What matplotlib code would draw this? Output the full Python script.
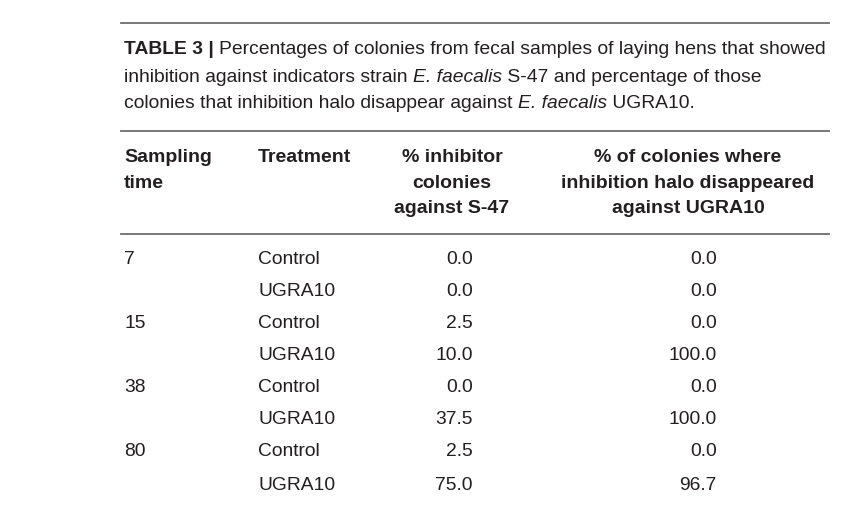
import matplotlib
matplotlib.use("Agg")
import matplotlib.pyplot as plt
from matplotlib.lines import Line2D

# ---- data ----
sampling_times = ["7", "", "15", "", "38", "", "80", ""]
treatments = ["Control", "UGRA10", "Control", "UGRA10", "Control", "UGRA10", "Control", "UGRA10"]
inhibitor_pct = [0.0, 0.0, 2.5, 10.0, 0.0, 37.5, 2.5, 75.0]
halo_pct = [0.0, 0.0, 0.0, 100.0, 0.0, 100.0, 0.0, 96.7]
headers = [["Sampling", "time"], ["Treatment"], ["% inhibitor", "colonies", "against S-47"],
           ["% of colonies where", "inhibition halo disappeared", "against UGRA10"]]
caption_lines = [
    [("TABLE 3 | ", "bold", "normal"),
     ("Percentages of colonies from fecal samples of laying hens that showed", "normal", "normal")],
    [("inhibition against indicators strain ", "normal", "normal"),
     ("E. faecalis", "normal", "italic"),
     (" S-47 and percentage of those", "normal", "normal")],
    [("colonies that inhibition halo disappear against ", "normal", "normal"),
     ("E. faecalis", "normal", "italic"),
     (" UGRA10.", "normal", "normal")],
]

W, H = 859, 505
fig = plt.figure(figsize=(W / 100, H / 100), dpi=100)
fig.patch.set_facecolor("white")
FONT = "Liberation Sans"
TXT = "#231f20"
LINE = "#6d6d6d"
FS_CAP = 13.85
FS_HEAD = 14
FS_BODY = 13.85

def fx(x):
    return x / W

def fy(y):
    return 1 - y / H

def hline(y, x0=121, x1=829):
    fig.add_artist(Line2D([fx(x0), fx(x1)], [fy(y), fy(y)], color=LINE, lw=1.3,
                          transform=fig.transFigure))

renderer = fig.canvas.get_renderer()

# caption
cap_y = [50, 77, 103]
for segs, y in zip(caption_lines, cap_y):
    x = 124
    for s, w, st in segs:
        t = fig.text(fx(x), fy(y), s, fontsize=FS_CAP, family=FONT, weight=w, style=st,
                     color=TXT, va="center", ha="left")
        bb = t.get_window_extent(renderer)
        x += bb.width

hline(23)
hline(131)
hline(234)

# header
hx = [124, 258, 452, 688]
hal = ["left", "left", "center", "center"]
hy = [157, 183, 209]
for lines, x, a in zip(headers, hx, hal):
    for s, y in zip(lines, hy):
        fig.text(fx(x), fy(y), s, fontsize=FS_HEAD, family=FONT, weight="bold", color=TXT,
                 va="center", ha=a)

# rows
row_y = [259, 291, 323, 355, 388, 420, 452, 485]
for st, tr, a, b, y in zip(sampling_times, treatments, inhibitor_pct, halo_pct, row_y):
    fig.text(fx(124), fy(y), st, fontsize=FS_BODY, family=FONT, color=TXT, va="center", ha="left")
    fig.text(fx(258), fy(y), tr, fontsize=FS_BODY, family=FONT, color=TXT, va="center", ha="left")
    fig.text(fx(473), fy(y), f"{a:.1f}", fontsize=FS_BODY, family=FONT, color=TXT, va="center", ha="right")
    fig.text(fx(717), fy(y), f"{b:.1f}", fontsize=FS_BODY, family=FONT, color=TXT, va="center", ha="right")

fig.savefig("out.png", dpi=100, facecolor="white")
